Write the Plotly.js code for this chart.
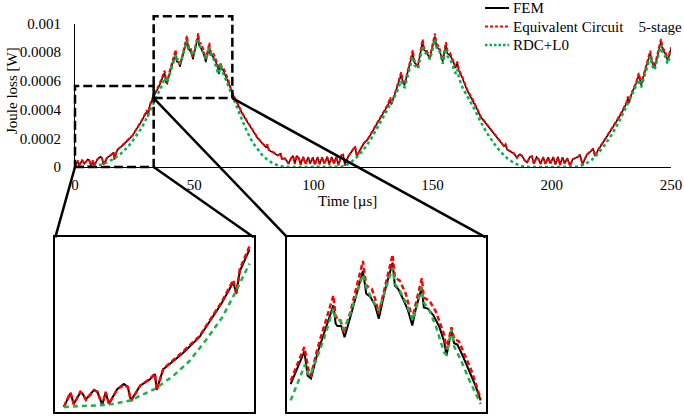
<!DOCTYPE html>
<html><head><meta charset="utf-8">
<script src="https://cdn.plot.ly/plotly-3.0.1.min.js"></script>
<style>html,body{margin:0;padding:0;background:#fff}#chart{width:684px;height:417px}</style>
</head><body><div id="chart"></div>
<script>
// ---------------- data (values in W, time in µs) ----------------
const timeFEM = [0, 1.16, 1.75, 2.92, 3.33, 3.91, 5.37, 5.96, 6.83, 7.42, 8.01, 9.47, 10.64, 11.34, 11.93, 12.98, 13.56, 15.32, 16.2, 16.49, 17.66, 19.41, 21.17, 24.09, 26.14, 27.99, 30.12, 30.65, 31.29, 33.0,
  35.4, 36.54, 37.59, 38.12, 38.65, 39.7, 40.75, 42.23, 42.59, 42.86, 43.49, 44.02, 44.96, 46.02, 46.96, 47.49, 48.12, 48.91, 49.49, 50.49, 51.7, 52.07, 52.59, 53.49, 54.17, 54.86, 55.49, 56.38, 56.7, 57.33, 58.23, 59.17, 59.96, 60.33, 61.12, 61.54, 62.07, 62.96, 63.91, 64.96, 65.8,
  68.1, 70.1, 72.2, 74.3, 76.4, 78.5, 80.1, 80.7, 81.3, 83.3, 85.1, 86.3, 86.8, 88.0, 89.6, 90.6, 91.5, 92.2, 93.0, 94.0, 94.6, 95.8, 96.7, 97.8, 98.6, 99.8, 100.6, 101.8, 102.6, 103.7, 104.6, 105.8, 106.6, 107.7, 108.6, 109.6, 110.5, 111.8, 112.5, 113.2, 114.6, 116.0, 117.5, 118.2, 119.5, 121.0, 122.9, 124.5, 126.0, 127.8, 129.5, 131.2, 132.3, 132.7, 134.7, 136.8, 137.6, 138.2, 140.3, 141.7, 142.3, 143.8, 145.8, 146.4, 147.3, 148.8, 151.0, 151.6, 152.8, 154.2, 155.6, 156.2, 157.3, 158.8, 159.6, 160.4, 161.0, 162.5, 164.6, 166.7, 168.8, 170.1, 172.2, 174.3, 177.1, 179.9, 180.6, 181.3, 184.0, 185.4, 186.4, 187.5, 188.5, 189.6, 190.8, 191.7, 192.5, 193.6, 194.5, 195.3, 196.4, 197.3, 198.5, 199.4, 200.6, 201.5, 202.6, 203.4, 204.5, 205.4, 206.5, 207.6, 208.8, 210.0, 211.1, 211.8, 212.9, 214.6, 216.0, 217.4, 218.1, 219.4, 222.2, 225.0, 227.1, 229.2, 231.3, 231.9, 232.4, 233.3, 235.4, 236.5, 237.5, 239.6, 241.3, 242.0, 243.1, 245.8, 246.5, 247.6, 248.6, 250.0];
const lossFEM = [0, 0.43e-4, 0.10e-4, 0.45e-4, 0.40e-4, 0.23e-4, 0.53e-4, 0.47e-4, 0.06e-4, 0.45e-4, 0.10e-4, 0.55e-4, 0.71e-4, 0.63e-4, 0.20e-4, 0.50e-4, 0.66e-4, 0.86e-4, 1.02e-4, 0.53e-4, 1.17e-4, 1.42e-4, 1.68e-4, 2.17e-4, 2.72e-4, 3.21e-4, 3.88e-4, 3.52e-4, 4.23e-4, 4.90e-4,
  5.66e-4, 6.17e-4, 6.59e-4, 5.90e-4, 5.82e-4, 6.55e-4, 7.10e-4, 7.89e-4, 7.38e-4, 7.31e-4, 7.31e-4, 6.99e-4, 7.57e-4, 8.22e-4, 8.87e-4, 8.22e-4, 8.14e-4, 7.89e-4, 7.51e-4, 8.31e-4, 9.10e-4, 8.45e-4, 8.36e-4, 8.03e-4, 7.75e-4, 7.32e-4, 7.85e-4, 8.40e-4, 7.83e-4, 7.80e-4, 7.61e-4, 7.29e-4, 6.87e-4, 6.47e-4, 7.20e-4, 6.82e-4, 6.78e-4, 6.45e-4, 6.08e-4, 5.62e-4, 5.20e-4,
  4.39e-4, 3.74e-4, 3.16e-4, 2.57e-4, 2.06e-4, 1.65e-4, 1.37e-4, 1.50e-4, 1.18e-4, 0.99e-4, 0.80e-4, 0.92e-4, 0.55e-4, 0.62e-4, 0.25e-4, 0.62e-4, 0.78e-4, 0.22e-4, 0.78e-4, 0.60e-4, 0.18e-4, 0.72e-4, 0.22e-4, 0.70e-4, 0.25e-4, 0.68e-4, 0.18e-4, 0.70e-4, 0.22e-4, 0.68e-4, 0.24e-4, 0.72e-4, 0.20e-4, 0.70e-4, 0.25e-4, 0.72e-4, 0.15e-4, 0.83e-4, 0.85e-4, 0.14e-4, 0.72e-4, 1.06e-4, 1.40e-4, 0.78e-4, 1.20e-4, 1.60e-4, 1.95e-4, 2.40e-4, 2.75e-4, 3.25e-4, 3.75e-4, 4.30e-4, 4.70e-4, 4.35e-4, 5.35e-4, 6.45e-4, 5.85e-4, 5.70e-4, 7.10e-4, 7.95e-4, 7.30e-4, 6.99e-4, 8.70e-4, 8.15e-4, 8.05e-4, 7.55e-4, 9.10e-4, 8.40e-4, 8.20e-4, 7.35e-4, 8.50e-4, 7.90e-4, 7.80e-4, 7.30e-4, 6.90e-4, 7.25e-4, 6.70e-4, 6.20e-4, 5.30e-4, 4.70e-4, 4.00e-4, 3.50e-4, 3.05e-4, 2.60e-4, 2.00e-4, 1.45e-4, 1.55e-4, 1.20e-4, 0.95e-4, 0.65e-4, 0.88e-4, 0.78e-4, 0.50e-4, 0.32e-4, 0.70e-4, 0.75e-4, 0.22e-4, 0.70e-4, 0.55e-4, 0.22e-4, 0.70e-4, 0.22e-4, 0.68e-4, 0.25e-4, 0.70e-4, 0.20e-4, 0.72e-4, 0.15e-4, 0.68e-4, 0.25e-4, 0.62e-4, 0.10e-4, 0.55e-4, 0.65e-4, 0.72e-4, 0.85e-4, 0.18e-4, 0.83e-4, 1.06e-4, 1.25e-4, 0.76e-4, 1.18e-4, 1.88e-4, 2.57e-4, 3.16e-4, 3.74e-4, 4.43e-4, 4.80e-4, 4.45e-4, 5.01e-4, 5.83e-4, 6.41e-4, 5.71e-4, 6.99e-4, 7.92e-4, 7.30e-4, 6.90e-4, 8.73e-4, 8.15e-4, 7.90e-4, 7.40e-4, 8.20e-4];

const timeEC = [0, 1.16, 1.75, 2.92, 3.33, 3.91, 5.37, 5.96, 6.83, 7.42, 8.01, 9.47, 10.64, 11.34, 11.93, 12.98, 13.56, 15.32, 16.2, 16.49, 17.66, 19.41, 21.17, 24.09, 26.14, 27.99, 30.12, 30.65, 31.29, 33.0,
  35.4, 37.59, 38.38, 38.65, 39.7, 42.23, 42.59, 43.38, 43.91, 44.96, 46.96, 47.49, 48.38, 48.91, 49.49, 51.7, 52.07, 52.86, 53.81, 54.86, 56.38, 56.7, 57.59, 58.65, 59.96, 60.33, 61.12, 61.54, 62.33, 63.38, 64.44, 65.8,
  68.1, 70.1, 72.2, 74.3, 76.4, 78.5, 80.1, 80.7, 81.3, 83.3, 85.1, 86.3, 86.8, 88.0, 89.6, 90.6, 91.5, 92.2, 93.0, 94.0, 94.6, 95.8, 96.7, 97.8, 98.6, 99.8, 100.6, 101.8, 102.6, 103.7, 104.6, 105.8, 106.6, 107.7, 108.6, 109.6, 110.5, 111.8, 112.5, 113.2, 114.6, 116.0, 117.5, 118.2, 119.5, 121.0, 122.9, 124.5, 126.0, 127.8, 129.5, 131.2, 132.3, 132.7, 134.7, 136.8, 137.6, 138.2, 140.3, 141.7, 142.3, 143.8, 145.8, 146.4, 147.3, 148.8, 151.0, 151.6, 152.8, 154.2, 155.6, 156.2, 157.3, 158.8, 159.6, 160.4, 161.0, 162.5, 164.6, 166.7, 168.8, 170.1, 172.2, 174.3, 177.1, 179.9, 180.6, 181.3, 184.0, 185.4, 186.4, 187.5, 188.5, 189.6, 190.8, 191.7, 192.5, 193.6, 194.5, 195.3, 196.4, 197.3, 198.5, 199.4, 200.6, 201.5, 202.6, 203.4, 204.5, 205.4, 206.5, 207.6, 208.8, 210.0, 211.1, 211.8, 212.9, 214.6, 216.0, 217.4, 218.1, 219.4, 222.2, 225.0, 227.1, 229.2, 231.3, 231.9, 232.4, 233.3, 235.4, 236.5, 237.5, 239.6, 241.3, 242.0, 243.1, 245.8, 246.5, 247.6, 248.6, 250.0];
const lossEC = [0, 0.45e-4, 0.08e-4, 0.47e-4, 0.40e-4, 0.22e-4, 0.52e-4, 0.47e-4, 0.05e-4, 0.47e-4, 0.09e-4, 0.55e-4, 0.68e-4, 0.62e-4, 0.18e-4, 0.52e-4, 0.66e-4, 0.88e-4, 1.03e-4, 0.52e-4, 1.18e-4, 1.45e-4, 1.72e-4, 2.20e-4, 2.76e-4, 3.25e-4, 3.95e-4, 3.55e-4, 4.30e-4, 5.00e-4,
  5.76e-4, 6.71e-4, 5.94e-4, 5.90e-4, 6.68e-4, 8.17e-4, 7.57e-4, 7.47e-4, 7.10e-4, 7.71e-4, 9.15e-4, 8.45e-4, 8.36e-4, 8.08e-4, 7.66e-4, 9.33e-4, 8.68e-4, 8.59e-4, 8.22e-4, 7.52e-4, 8.66e-4, 8.11e-4, 8.03e-4, 7.71e-4, 7.06e-4, 6.64e-4, 7.27e-4, 6.94e-4, 6.87e-4, 6.45e-4, 5.99e-4, 5.24e-4,
  4.45e-4, 3.78e-4, 3.20e-4, 2.62e-4, 2.10e-4, 1.68e-4, 1.40e-4, 1.58e-4, 1.20e-4, 1.02e-4, 0.82e-4, 0.95e-4, 0.52e-4, 0.60e-4, 0.22e-4, 0.60e-4, 0.76e-4, 0.20e-4, 0.75e-4, 0.58e-4, 0.15e-4, 0.70e-4, 0.18e-4, 0.68e-4, 0.22e-4, 0.66e-4, 0.15e-4, 0.68e-4, 0.18e-4, 0.66e-4, 0.20e-4, 0.70e-4, 0.17e-4, 0.68e-4, 0.22e-4, 0.70e-4, 0.12e-4, 0.82e-4, 0.86e-4, 0.10e-4, 0.74e-4, 1.08e-4, 1.45e-4, 0.76e-4, 1.22e-4, 1.63e-4, 1.98e-4, 2.44e-4, 2.80e-4, 3.30e-4, 3.80e-4, 4.35e-4, 4.85e-4, 4.40e-4, 5.40e-4, 6.60e-4, 5.95e-4, 5.75e-4, 7.20e-4, 8.15e-4, 7.45e-4, 7.05e-4, 8.90e-4, 8.30e-4, 8.20e-4, 7.65e-4, 9.30e-4, 8.60e-4, 8.35e-4, 7.45e-4, 8.70e-4, 8.10e-4, 7.95e-4, 7.40e-4, 7.00e-4, 7.35e-4, 6.80e-4, 6.28e-4, 5.36e-4, 4.76e-4, 4.05e-4, 3.55e-4, 3.10e-4, 2.65e-4, 2.04e-4, 1.48e-4, 1.60e-4, 1.22e-4, 0.97e-4, 0.63e-4, 0.90e-4, 0.80e-4, 0.48e-4, 0.30e-4, 0.68e-4, 0.74e-4, 0.20e-4, 0.68e-4, 0.53e-4, 0.20e-4, 0.68e-4, 0.20e-4, 0.66e-4, 0.23e-4, 0.68e-4, 0.18e-4, 0.70e-4, 0.13e-4, 0.66e-4, 0.23e-4, 0.60e-4, 0.08e-4, 0.53e-4, 0.64e-4, 0.72e-4, 0.86e-4, 0.16e-4, 0.85e-4, 1.08e-4, 1.30e-4, 0.74e-4, 1.20e-4, 1.92e-4, 2.62e-4, 3.21e-4, 3.80e-4, 4.50e-4, 4.92e-4, 4.50e-4, 5.08e-4, 5.90e-4, 6.55e-4, 5.80e-4, 7.08e-4, 8.10e-4, 7.45e-4, 7.00e-4, 8.92e-4, 8.30e-4, 8.05e-4, 7.50e-4, 8.35e-4];

const timeRDC = [0, 3.6, 7.7, 11.8, 16.2, 19.4, 22.3, 25.3, 28.2, 30.5, 33.0,
  35.4, 36.54, 37.7, 38.12, 38.54, 39.7, 40.75, 42.23, 42.59, 43.28, 43.91, 44.96, 46.96, 47.49, 48.38, 49.49, 51.7, 52.07, 52.86, 53.91, 54.96, 56.38, 56.65, 57.59, 58.65, 59.96, 60.33, 61.12, 61.54, 62.59, 63.91, 65.8,
  68.1, 70.1, 72.2, 74.3, 76.4, 78.5, 80.6, 82.6, 84.7, 86.8, 89.6, 100.0, 111.1, 113.2, 116.0, 118.7, 121.5, 124.3, 127.1, 129.9, 132.6, 134.7, 136.8, 137.6, 138.3, 140.3, 141.7, 142.4, 143.9, 145.8, 146.5, 147.4, 148.9, 151.0, 151.7, 152.9, 154.3, 155.6, 156.3, 157.4, 158.9, 159.7, 160.4, 161.1, 162.6, 164.6, 167.4, 170.1, 172.9, 175.7, 178.5, 181.3, 184.0, 186.8, 189.6, 200.0, 211.1, 213.9, 216.7, 219.4, 222.2, 225.0, 227.8, 230.6, 233.3, 236.1, 236.6, 237.5, 239.6, 241.3, 242.0, 243.1, 245.8, 246.5, 247.6, 248.6, 250.0];
const lossRDC = [0, 0.02e-4, 0.06e-4, 0.20e-4, 0.56e-4, 0.96e-4, 1.42e-4, 2.09e-4, 2.80e-4, 3.57e-4, 4.46e-4,
  5.20e-4, 5.71e-4, 6.22e-4, 5.97e-4, 5.91e-4, 6.45e-4, 6.96e-4, 7.80e-4, 7.52e-4, 7.47e-4, 7.20e-4, 7.66e-4, 8.77e-4, 8.40e-4, 8.08e-4, 7.75e-4, 8.96e-4, 8.50e-4, 8.31e-4, 7.94e-4, 7.47e-4, 8.40e-4, 7.99e-4, 7.75e-4, 7.29e-4, 6.55e-4, 6.50e-4, 7.20e-4, 6.73e-4, 6.36e-4, 5.80e-4, 5.10e-4,
  4.08e-4, 3.27e-4, 2.46e-4, 1.76e-4, 1.30e-4, 0.83e-4, 0.53e-4, 0.30e-4, 0.14e-4, 0.04e-4, 0, 0, 0.02e-4, 0.06e-4, 0.37e-4, 0.76e-4, 1.30e-4, 1.99e-4, 2.81e-4, 3.62e-4, 4.43e-4, 5.10e-4, 6.00e-4, 5.60e-4, 5.55e-4, 6.90e-4, 7.70e-4, 7.10e-4, 6.85e-4, 8.45e-4, 8.00e-4, 7.90e-4, 7.50e-4, 8.90e-4, 8.30e-4, 8.05e-4, 7.20e-4, 8.25e-4, 7.70e-4, 7.50e-4, 6.90e-4, 6.50e-4, 6.80e-4, 6.20e-4, 5.50e-4, 4.90e-4, 4.08e-4, 3.16e-4, 2.34e-4, 1.65e-4, 1.06e-4, 0.60e-4, 0.30e-4, 0.07e-4, 0, 0, 0.02e-4, 0.20e-4, 0.48e-4, 0.95e-4, 1.53e-4, 2.22e-4, 3.04e-4, 3.97e-4, 4.90e-4, 5.94e-4, 6.10e-4, 5.55e-4, 6.80e-4, 7.70e-4, 7.10e-4, 6.75e-4, 8.50e-4, 7.95e-4, 7.70e-4, 7.20e-4, 7.95e-4];

const seriesNames = ['FEM', 'Equivalent Circuit\u00a0\u00a0\u00a0\u00a05-stage', 'RDC+L0'];
const xTickVals = [0, 50, 100, 150, 200, 250];
const yTickVals = [0, 0.0002, 0.0004, 0.0006, 0.0008, 0.001];
const yTickText = ['0', '0.0002', '0.0004', '0.0006', '0.0008', '0.001'];
const xRangeMain = [0, 250];
const yRangeMain = [0, 0.001];
// zoom windows marked on the main chart
const zoomBox1X = [0, 33], zoomBox1Y = [0, 0.000564];
const zoomBox2X = [33, 66], zoomBox2Y = [0.00048, 0.00105];
// data windows and axis ranges shown in the insets
const insetWin1 = [0, 33], insetWin2 = [35.4, 65.8];
const inset1RangeX = [-1.53, 33.75], inset1RangeY = [-0.000015, 0.000528];
const inset2RangeX = [34.86, 66.6], inset2RangeY = [0.000488, 0.000982];

// ---------------- layout geometry ----------------
const W = 684, H = 417;
const mainDomX = [75 / W, 671 / W];
const mainDomY = [(H - 167) / H, (H - 23.5) / H];
const in1DomX = [55.3 / W, 253.7 / W];
const in2DomX = [287.3 / W, 485.7 / W];
const inDomY = [5.3 / H, 179.7 / H];
const legendX = [485 / W, 509 / W], legendTextX = 511 / W;
const legendRowY = [(H - 8) / H, (H - 26.5) / H, (H - 45) / H];

function px(t) { return mainDomX[0] + (t - xRangeMain[0]) / (xRangeMain[1] - xRangeMain[0]) * (mainDomX[1] - mainDomX[0]); }
function py(v) { return mainDomY[0] + (v - yRangeMain[0]) / (yRangeMain[1] - yRangeMain[0]) * (mainDomY[1] - mainDomY[0]); }
function windowed(ts, vs, win) {
  const x = [], y = [];
  ts.forEach((t, i) => { if (t >= win[0] - 1e-9 && t <= win[1] + 1e-9) { x.push(t); y.push(vs[i]); } });
  return { x, y };
}

const FONT = 'Liberation Serif, Times New Roman, serif';
const BLACK = '#000000', RED = '#ff0000', GREEN = '#00b050';
const lineStyles = [
  { color: BLACK, width: 1.5 },
  { color: RED, width: 2, dash: '4px,2px' },
  { color: GREEN, width: 2.5, dash: 'dot' }
];

const traces = [
  { x: timeFEM, y: lossFEM, name: seriesNames[0], mode: 'lines', line: lineStyles[0], xaxis: 'x', yaxis: 'y' },
  { x: timeEC, y: lossEC, name: seriesNames[1], mode: 'lines', line: lineStyles[1], xaxis: 'x', yaxis: 'y' },
  { x: timeRDC, y: lossRDC, name: seriesNames[2], mode: 'lines', line: lineStyles[2], xaxis: 'x', yaxis: 'y' }
];
[[insetWin1, 'x2', 'y2'], [insetWin2, 'x3', 'y3']].forEach(([win, xa, ya]) => {
  const f = windowed(timeFEM, lossFEM, win), e = windowed(timeEC, lossEC, win), r = windowed(timeRDC, lossRDC, win);
  traces.push({ x: f.x, y: f.y, mode: 'lines', showlegend: false, line: { color: BLACK, width: 2 }, xaxis: xa, yaxis: ya });
  traces.push({ x: e.x, y: e.y, mode: 'lines', showlegend: false, line: { color: RED, width: 2.5, dash: '5px,3px' }, xaxis: xa, yaxis: ya });
  traces.push({ x: r.x, y: r.y, mode: 'lines', showlegend: false, line: { color: '#1fb04a', width: 2.5, dash: '5px,4px' }, xaxis: xa, yaxis: ya });
});

const insetAxis = (dom, rng, anchor) => ({ domain: dom, range: rng, anchor: anchor, showline: true, mirror: true, linewidth: 2.5, linecolor: BLACK, showticklabels: false, ticks: '', showgrid: false, zeroline: false, fixedrange: true });

const dashBox = { color: BLACK, width: 2.5, dash: '9px,4px' };
const solid = { color: BLACK, width: 2.5 };
const shapes = [
  { type: 'rect', xref: 'paper', yref: 'paper', x0: px(zoomBox1X[0]), x1: px(zoomBox1X[1]), y0: py(zoomBox1Y[0]), y1: py(zoomBox1Y[1]), line: dashBox, layer: 'above' },
  { type: 'rect', xref: 'paper', yref: 'paper', x0: px(zoomBox2X[0]), x1: px(zoomBox2X[1]), y0: py(zoomBox2Y[0]), y1: py(zoomBox2Y[1]), line: dashBox, layer: 'above' },
  { type: 'line', xref: 'paper', yref: 'paper', x0: px(zoomBox1X[0]), y0: py(zoomBox1Y[0]), x1: in1DomX[0], y1: inDomY[1], line: solid },
  { type: 'line', xref: 'paper', yref: 'paper', x0: px(zoomBox1X[1]), y0: py(zoomBox1Y[0]), x1: in1DomX[1], y1: inDomY[1], line: solid },
  { type: 'line', xref: 'paper', yref: 'paper', x0: px(zoomBox2X[0]), y0: py(zoomBox2Y[0]), x1: in2DomX[0], y1: inDomY[1], line: solid },
  { type: 'line', xref: 'paper', yref: 'paper', x0: px(zoomBox2X[1]), y0: py(zoomBox2Y[0]), x1: in2DomX[1], y1: inDomY[1], line: solid }
];
// legend samples
const legendSampleStyles = [
  { color: BLACK, width: 2 },
  { color: RED, width: 2, dash: '3px,2px' },
  { color: GREEN, width: 2.5, dash: '2.5px,2px' }
];
seriesNames.forEach((n, i) => {
  shapes.push({ type: 'line', xref: 'paper', yref: 'paper', x0: legendX[0], x1: legendX[1], y0: legendRowY[i], y1: legendRowY[i], line: legendSampleStyles[i] });
});
const annotations = [
  { xref: 'paper', yref: 'paper', x: 12 / W, y: (H - 91) / H, xanchor: 'center', yanchor: 'middle', text: 'Joule loss [W]', textangle: -90, showarrow: false, font: { family: FONT, size: 15, color: BLACK } },
  { xref: 'paper', yref: 'paper', x: 347 / W, y: (H - 201) / H, xanchor: 'center', yanchor: 'middle', text: 'Time [\u00b5s]', showarrow: false, font: { family: FONT, size: 15, color: BLACK } }
];
seriesNames.forEach((n, i) => {
  annotations.push({ xref: 'paper', yref: 'paper', x: legendTextX, y: legendRowY[i], xanchor: 'left', yanchor: 'middle', text: n, showarrow: false, font: { family: FONT, size: 15, color: BLACK } });
});

const layout = {
  width: W, height: H,
  margin: { l: 0, r: 0, t: 0, b: 0, autoexpand: false },
  paper_bgcolor: '#ffffff', plot_bgcolor: 'rgba(0,0,0,0)',
  font: { family: FONT, size: 15, color: BLACK },
  showlegend: false,
  xaxis: { domain: mainDomX, range: xRangeMain, anchor: 'y', tickvals: xTickVals, showgrid: false, zeroline: false, showline: true, linecolor: BLACK, linewidth: 1, ticks: '', ticklabelstandoff: 4, ticklabeloverflow: 'allow', automargin: false, fixedrange: true },
  yaxis: { domain: mainDomY, range: yRangeMain, anchor: 'x', tickvals: yTickVals, ticktext: yTickText, showgrid: false, zeroline: false, showline: true, linecolor: BLACK, linewidth: 1, ticks: '', ticklabelstandoff: 10, ticklabeloverflow: 'allow', automargin: false, fixedrange: true },
  xaxis2: insetAxis(in1DomX, inset1RangeX, 'y2'),
  yaxis2: insetAxis(inDomY, inset1RangeY, 'x2'),
  xaxis3: insetAxis(in2DomX, inset2RangeX, 'y3'),
  yaxis3: insetAxis(inDomY, inset2RangeY, 'x3'),
  shapes: shapes,
  annotations: annotations
};

Plotly.newPlot('chart', traces, layout, { displayModeBar: false, staticPlot: true });
</script>
</body></html>
